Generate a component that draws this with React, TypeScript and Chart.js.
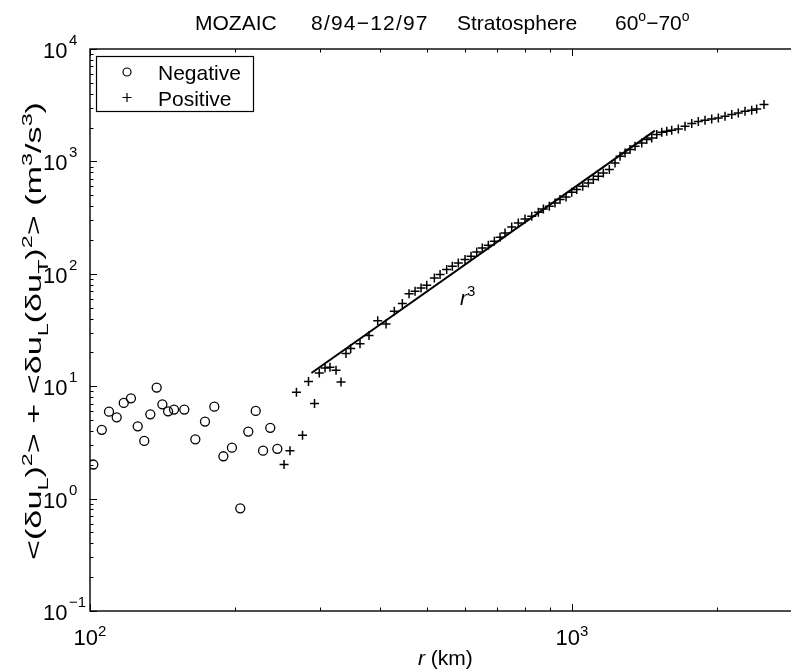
import React, { useEffect, useRef } from 'react';
import { Chart, registerables } from 'chart.js';
Chart.register(...registerables);

const FONT = '"Liberation Sans", Arial, Helvetica, sans-serif';

// Negative (circles)
const negR = [101.6, 105.8, 109.5, 113.6, 117.5, 121.6, 125.6, 129.6, 133.4, 137.5, 141.3, 145.2, 149.4, 156.9, 165.4, 173.2, 181.1, 189.1, 197.0, 205.0, 213.0, 220.7, 228.6, 236.6, 244.7];
const negV = [2.01, 4.09, 5.94, 5.29, 7.10, 7.80, 4.40, 3.26, 5.62, 9.72, 6.90, 5.98, 6.19, 6.19, 3.37, 4.84, 6.58, 2.38, 2.84, 0.82, 3.95, 6.03, 2.67, 4.26, 2.77];

// Positive (crosses)
const posR = [252.7, 259.9, 268.1, 276.0, 284.0, 292.3, 299.0, 307.3, 314.7, 323.9,
  331.7, 339.7, 347.4, 363.2, 379.2, 395.3, 411.3, 427.9, 444.6, 459.1,
  472.5, 486.2, 499.6, 518.1, 532.4, 549.5, 564.5, 580.9, 599.8, 617.3,
  634.3, 651.5, 670.5, 690.0, 709.0, 726.1, 749.7, 773.7, 798.9, 824.9,
  851.3, 872.0, 897.3, 921.9, 944.3, 971.8, 998.6, 1022.8, 1052.5, 1081.0,
  1107.2, 1134.0, 1161.3, 1195.2, 1228.1, 1257.8, 1288.2, 1319.3, 1351.2, 1395.2,
  1428.8, 1463.4, 1498.8, 1535.1, 1572.2, 1610.0, 1661.6, 1715.7, 1771.5, 1828.1,
  1887.6, 1949.0, 2011.5, 2077, 2145, 2213, 2285, 2359, 2416, 2502];
const posV = [2.01, 2.66, 8.83, 3.66, 10.99, 7.00, 13.13, 14.55, 14.73, 13.85,
  10.92, 19.5, 21.7, 23.8, 28.2, 38.3, 35.8, 46.4, 54.3, 66.3,
  69.9, 74.9, 79.0, 91.9, 98.4, 109.0, 116.6, 125.0, 133.8, 143.1,
  156.6, 170.0, 179.3, 194.6, 211.2, 231.1, 261.4, 283.8, 307.8, 324.8,
  352.5, 377.9, 398.6, 427.4, 457.2, 483.3, 531.1, 561.2, 600.5, 643.7,
  688.8, 737.0, 790.1, 845.3, 969.8, 1110, 1190, 1274, 1362, 1461,
  1563, 1619, 1731, 1815, 1852, 1891, 1946, 2053, 2169, 2260,
  2321, 2388, 2438, 2519, 2608, 2701, 2791, 2849, 2931, 3202];

// r^3 reference line end points
const fitR = [288, 1486];
const fitV = [13.1, 1879];

// Axes
const xMin = 100, xMax = 3000;
const yMin = 0.1, yMax = 10000;
const xMajor = [100, 1000];
const xExp = ['2', '3'];
const yMajor = [0.1, 1, 10, 100, 1000, 10000];
const yExp = ['\u22121', '0', '1', '2', '3', '4'];

type Run = { t: string; k?: 'sub' | 'sup'; it?: boolean };

function drawRuns(ctx: CanvasRenderingContext2D, runs: Run[], x: number, y: number, size: number, small: number, align: 'left' | 'center', targetWidth?: number) {
  const fontFor = (r: Run) => `${r.it ? 'italic ' : ''}${r.k ? small : size}px ${FONT}`;
  let total = 0;
  for (const r of runs) { ctx.font = fontFor(r); total += ctx.measureText(r.t).width; }
  const s = targetWidth ? targetWidth / total : 1;
  ctx.save();
  ctx.translate(x, y);
  ctx.scale(s, 1);
  let cx = align === 'center' ? -total / 2 : 0;
  ctx.textAlign = 'left';
  ctx.textBaseline = 'alphabetic';
  for (const r of runs) {
    ctx.font = fontFor(r);
    const dy = r.k === 'sub' ? size * 0.3 : r.k === 'sup' ? -size * 0.42 : 0;
    ctx.fillText(r.t, cx, dy);
    cx += ctx.measureText(r.t).width;
  }
  ctx.restore();
}

const deco = {
  id: 'deco',
  afterDraw(chart: any) {
    const ctx: CanvasRenderingContext2D = chart.ctx;
    const xs = chart.scales.x, ys = chart.scales.y;
    const { left, right, top, bottom } = chart.chartArea;
    ctx.save();
    ctx.strokeStyle = '#000';
    ctx.fillStyle = '#000';
    ctx.lineWidth = 1.4;
    ctx.strokeRect(left, top, right - left, bottom - top);

    // x ticks
    ctx.beginPath();
    for (let d = 100; d <= 1000; d *= 10) {
      for (let m = 1; m <= 9; m++) {
        const v = d * m;
        if (v < xMin || v > xMax) continue;
        const px = Math.round(xs.getPixelForValue(v)) + 0.5;
        const len = m === 1 ? 7 : 3.5;
        ctx.moveTo(px, bottom); ctx.lineTo(px, bottom - len);
        ctx.moveTo(px, top); ctx.lineTo(px, top + len);
      }
    }
    // y ticks
    for (let d = 0.1; d <= 10000; d *= 10) {
      for (let m = 1; m <= 9; m++) {
        const v = d * m;
        if (v < yMin * 0.999 || v > yMax * 1.001) continue;
        const py = Math.round(ys.getPixelForValue(v)) + 0.5;
        const len = m === 1 ? 7 : 3.5;
        ctx.moveTo(left, py); ctx.lineTo(left + len, py);
        ctx.moveTo(right, py); ctx.lineTo(right - len, py);
      }
    }
    ctx.lineWidth = 1;
    ctx.stroke();

    // x tick labels
    xMajor.forEach((v, i) => {
      const px = xs.getPixelForValue(v);
      drawRuns(ctx, [{ t: '10' }, { t: xExp[i], k: 'sup' }], px, 645, 22, 15, 'center');
    });
    // y tick labels
    yMajor.forEach((v, i) => {
      const py = ys.getPixelForValue(v);
      ctx.font = `22px ${FONT}`;
      ctx.textAlign = 'left';
      ctx.textBaseline = 'alphabetic';
      ctx.fillText('10', 43, py + 9);
      ctx.font = `15px ${FONT}`;
      ctx.fillText(yExp[i], 69, py - 4);
    });

    // title
    ctx.font = `21px ${FONT}`;
    ctx.textAlign = 'left';
    ctx.textBaseline = 'alphabetic';
    ctx.fillText('MOZAIC', 195, 30);
    (ctx as any).letterSpacing = '1.2px';
    ctx.fillText('8/94\u221212/97', 311, 30);
    (ctx as any).letterSpacing = '0px';
    ctx.fillText('Stratosphere', 457, 30);
    drawRuns(ctx, [{ t: '60' }, { t: 'o', k: 'sup' }, { t: '\u2212' }, { t: '70' }, { t: 'o', k: 'sup' }], 615, 30, 21, 14, 'left');

    // x axis label
    drawRuns(ctx, [{ t: 'r', it: true }, { t: ' (km)' }], 418, 665, 21, 15, 'left');

    // y axis label
    ctx.save();
    ctx.translate(41, 331);
    ctx.rotate(-Math.PI / 2);
    drawRuns(ctx, [
      { t: '<(\u03B4u' }, { t: 'L', k: 'sub' }, { t: ')' }, { t: '2', k: 'sup' },
      { t: '> + <\u03B4u' }, { t: 'L', k: 'sub' }, { t: '(\u03B4u' }, { t: 'T', k: 'sub' }, { t: ')' }, { t: '2', k: 'sup' },
      { t: '> (m' }, { t: '3', k: 'sup' }, { t: '/s' }, { t: '3', k: 'sup' }, { t: ')' },
    ], 0, 0, 22, 15, 'center', 458);
    ctx.restore();

    // r^3 annotation
    drawRuns(ctx, [{ t: 'r', it: true }, { t: '3', k: 'sup' }], 460, 305, 21, 15, 'left');

    // legend
    ctx.fillStyle = '#fff';
    ctx.fillRect(96.5, 56.5, 157, 55);
    ctx.fillStyle = '#000';
    ctx.lineWidth = 1.2;
    ctx.strokeRect(96.5, 56.5, 157, 55);
    ctx.beginPath();
    ctx.arc(127, 72, 4, 0, Math.PI * 2);
    ctx.stroke();
    ctx.beginPath();
    ctx.moveTo(122.5, 97.5); ctx.lineTo(131.5, 97.5);
    ctx.moveTo(127, 93); ctx.lineTo(127, 102);
    ctx.stroke();
    ctx.font = `21px ${FONT}`;
    ctx.textAlign = 'left';
    ctx.fillText('Negative', 158, 80);
    ctx.fillText('Positive', 158, 106);
    ctx.restore();
  },
};

export default function App() {
  const ref = useRef<HTMLCanvasElement>(null);
  useEffect(() => {
    if (!ref.current) return;
    const chart = new Chart(ref.current, {
      type: 'scatter',
      data: {
        datasets: [
          {
            label: 'Negative',
            data: negR.map((r, i) => ({ x: r, y: negV[i] })),
            pointStyle: 'circle',
            pointRadius: 4.5,
            borderColor: '#000',
            backgroundColor: 'rgba(0,0,0,0)',
            borderWidth: 1.3,
            showLine: false,
          },
          {
            label: 'Positive',
            data: posR.map((r, i) => ({ x: r, y: posV[i] })),
            pointStyle: 'cross',
            pointRadius: 4.5,
            borderColor: '#000',
            backgroundColor: '#000',
            borderWidth: 1.5,
            showLine: false,
          },
          {
            label: 'fit',
            data: fitR.map((r, i) => ({ x: r, y: fitV[i] })),
            showLine: true,
            pointRadius: 0,
            borderColor: '#000',
            borderWidth: 2,
            tension: 0,
          } as any,
        ],
      },
      options: {
        responsive: false,
        devicePixelRatio: 1,
        animation: false,
        layout: { padding: { left: 90, right: 13, top: 49, bottom: 61 } },
        plugins: { legend: { display: false }, tooltip: { enabled: false }, title: { display: false } },
        scales: {
          x: { type: 'logarithmic', min: xMin, max: xMax, display: false },
          y: { type: 'logarithmic', min: yMin, max: yMax, display: false },
        },
      },
      plugins: [deco],
    });
    return () => chart.destroy();
  }, []);
  return (
    <div style={{ position: 'absolute', left: 0, top: 0, width: 791, height: 672, overflow: 'hidden', background: '#fff' }}>
      <canvas ref={ref} width={815} height={672} style={{ display: 'block', width: 815, height: 672 }} />
    </div>
  );
}
